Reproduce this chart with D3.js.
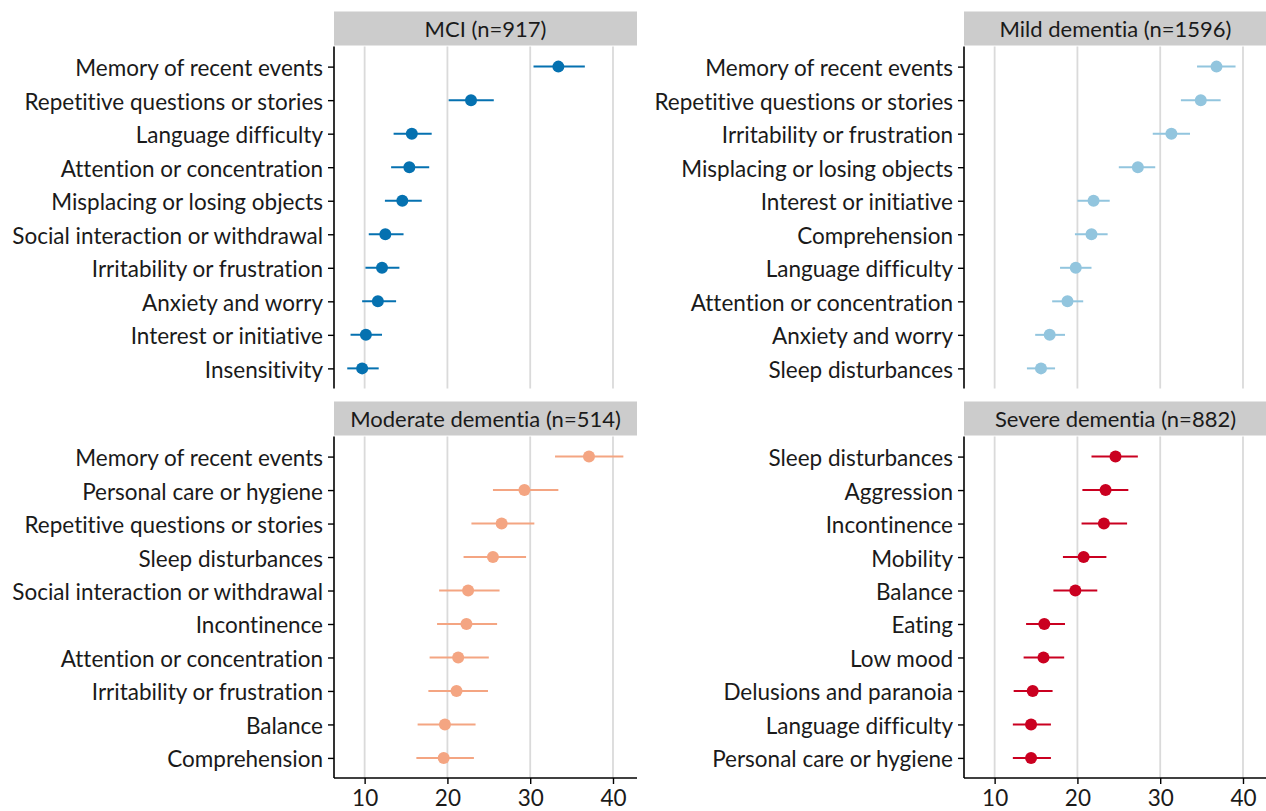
<!DOCTYPE html>
<html>
<head>
<meta charset="utf-8">
<script src="https://cdn.jsdelivr.net/npm/d3@7"></script>
<style>
  body { margin: 0; background: #fff; }
  svg { font-family: Lato, "Open Sans", sans-serif; font-variant-ligatures: none; font-feature-settings: "liga" 0; }
</style>
</head>
<body>
<svg id="chart" width="1266" height="811"></svg>
<script>
// panel titles
var panelTitles = ["MCI (n=917)", "Mild dementia (n=1596)", "Moderate dementia (n=514)", "Severe dementia (n=882)"];
var panelColors = ["#0571b0", "#92c5de", "#f4a582", "#ca0020"];

var mciLabels = ["Memory of recent events", "Repetitive questions or stories", "Language difficulty",
  "Attention or concentration", "Misplacing or losing objects", "Social interaction or withdrawal",
  "Irritability or frustration", "Anxiety and worry", "Interest or initiative", "Insensitivity"];
var mciEst = [33.4, 22.85, 15.7, 15.4, 14.55, 12.5, 12.1, 11.6, 10.15, 9.7];
var mciLow = [30.4, 20.15, 13.5, 13.2, 12.45, 10.5, 10.1, 9.7, 8.3, 7.9];
var mciHigh = [36.6, 25.6, 18.1, 17.8, 16.9, 14.7, 14.2, 13.8, 12.1, 11.7];

var mildLabels = ["Memory of recent events", "Repetitive questions or stories", "Irritability or frustration",
  "Misplacing or losing objects", "Interest or initiative", "Comprehension", "Language difficulty",
  "Attention or concentration", "Anxiety and worry", "Sleep disturbances"];
var mildEst = [36.8, 34.9, 31.35, 27.3, 21.95, 21.7, 19.8, 18.8, 16.65, 15.6];
var mildLow = [34.45, 32.5, 29.1, 25.0, 20.0, 19.7, 17.9, 16.95, 14.9, 13.9];
var mildHigh = [39.1, 37.3, 33.6, 29.4, 23.9, 23.65, 21.7, 20.7, 18.5, 17.3];

var modLabels = ["Memory of recent events", "Personal care or hygiene", "Repetitive questions or stories",
  "Sleep disturbances", "Social interaction or withdrawal", "Incontinence", "Attention or concentration",
  "Irritability or frustration", "Balance", "Comprehension"];
var modEst = [37.1, 29.3, 26.55, 25.5, 22.5, 22.3, 21.3, 21.1, 19.7, 19.55];
var modLow = [33.0, 25.5, 22.9, 21.95, 19.0, 18.75, 17.85, 17.7, 16.4, 16.25];
var modHigh = [41.25, 33.4, 30.5, 29.5, 26.3, 26.0, 25.0, 24.9, 23.4, 23.2];

var sevLabels = ["Sleep disturbances", "Aggression", "Incontinence", "Mobility", "Balance", "Eating",
  "Low mood", "Delusions and paranoia", "Language difficulty", "Personal care or hygiene"];
var sevEst = [24.6, 23.4, 23.2, 20.75, 19.75, 16.0, 15.9, 14.6, 14.4, 14.4];
var sevLow = [21.7, 20.6, 20.5, 18.25, 17.1, 13.8, 13.5, 12.3, 12.2, 12.2];
var sevHigh = [27.3, 26.15, 26.0, 23.5, 22.4, 18.5, 18.4, 17.0, 16.8, 16.8];

var xTicks = [10, 20, 30, 40];

var panels = [
  { labels: mciLabels, est: mciEst, low: mciLow, high: mciHigh },
  { labels: mildLabels, est: mildEst, low: mildLow, high: mildHigh },
  { labels: modLabels, est: modEst, low: modLow, high: modHigh },
  { labels: sevLabels, est: sevEst, low: sevLow, high: sevHigh }
];

var svg = d3.select("#chart");

var cols = [334, 964];
var panelW = 303;
var rows = [{ strip: 11.5, top: 46.5, bottom: 388.5 }, { strip: 401.5, top: 436.5, bottom: 778 }];
var stripH = 34;
var fontSize = 22.5;

panels.forEach(function(p, i) {
  var left = cols[i % 2];
  var r = rows[Math.floor(i / 2)];
  var isBottom = i >= 2;
  var color = panelColors[i];

  var x = d3.scaleLinear().domain([6.3, 42.9]).range([left, left + panelW]);
  var y = d3.scalePoint().domain(p.labels).range([r.top, r.bottom]).padding(0.6);

  var g = svg.append("g");

  // strip
  g.append("rect")
    .attr("x", left)
    .attr("y", r.strip)
    .attr("width", panelW)
    .attr("height", stripH)
    .attr("fill", "#cccccc");
  g.append("text")
    .attr("x", left + panelW / 2)
    .attr("y", r.strip + stripH / 2 + 1)
    .attr("dy", "0.35em")
    .attr("text-anchor", "middle")
    .attr("font-size", 22)
    .attr("fill", "#1a1a1a")
    .text(panelTitles[i]);

  // grid lines
  g.selectAll(".grid")
    .data(xTicks)
    .enter().append("line")
    .attr("x1", d => x(d)).attr("x2", d => x(d))
    .attr("y1", r.top).attr("y2", r.bottom)
    .attr("stroke", "#dadada")
    .attr("stroke-width", 1.8);

  // error bars
  g.selectAll(".bar")
    .data(p.labels)
    .enter().append("line")
    .attr("x1", (d, k) => x(p.low[k]))
    .attr("x2", (d, k) => x(p.high[k]))
    .attr("y1", d => y(d)).attr("y2", d => y(d))
    .attr("stroke", color)
    .attr("stroke-width", 2);

  g.selectAll(".pt")
    .data(p.labels)
    .enter().append("circle")
    .attr("cx", (d, k) => x(p.est[k]))
    .attr("cy", d => y(d))
    .attr("r", 6)
    .attr("fill", color);

  // y axis
  var yAxis = g.append("g")
    .attr("transform", "translate(" + left + ",0)")
    .call(d3.axisLeft(y).tickSize(6).tickPadding(5));
  yAxis.select(".domain").remove();
  yAxis.append("line")
    .attr("x1", 0).attr("x2", 0)
    .attr("y1", r.top).attr("y2", r.bottom)
    .attr("stroke", "#000").attr("stroke-width", 1.6);
  yAxis.selectAll(".tick line").attr("stroke", "#000").attr("stroke-width", 1.4);
  yAxis.selectAll("text")
    .attr("font-size", fontSize)
    .attr("font-family", "Lato, sans-serif")
    .attr("fill", "#1a1a1a")
    .attr("dy", "0.4em");

  if (isBottom) {
    var xAxis = g.append("g")
      .attr("transform", "translate(0," + r.bottom + ")")
      .call(d3.axisBottom(x).tickValues(xTicks).tickSize(6).tickPadding(6));
    xAxis.select(".domain").remove();
    xAxis.append("line")
      .attr("x1", left).attr("x2", left + panelW)
      .attr("y1", 0).attr("y2", 0)
      .attr("stroke", "#000").attr("stroke-width", 1.6);
    xAxis.selectAll(".tick line").attr("stroke", "#000").attr("stroke-width", 1.4);
    xAxis.selectAll("text")
      .attr("font-size", fontSize)
      .attr("font-family", "Lato, sans-serif")
      .attr("fill", "#1a1a1a");
  }
});
</script>
</body>
</html>
